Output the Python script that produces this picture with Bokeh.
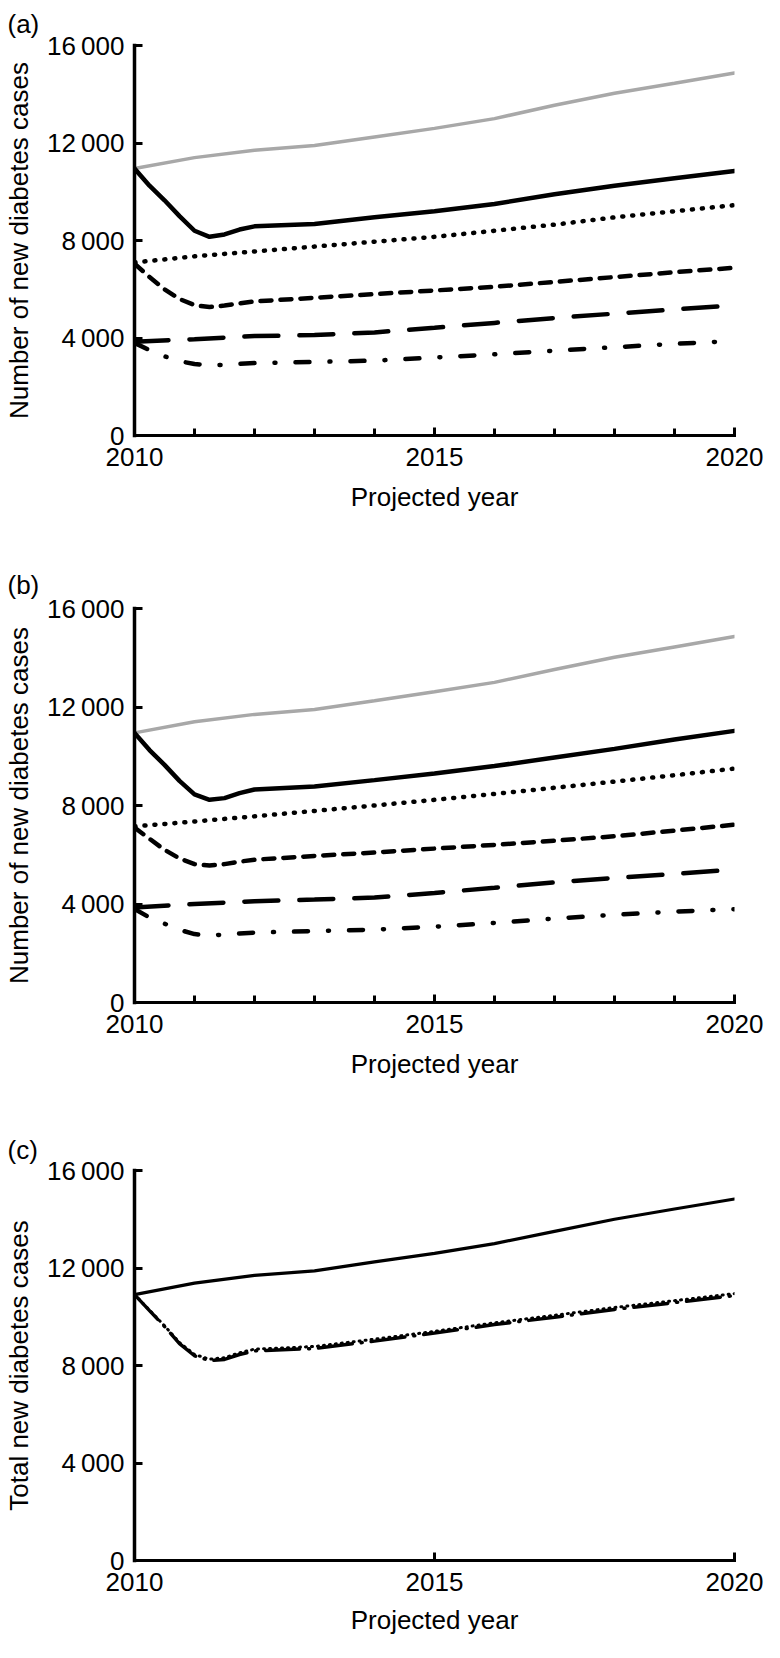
from bokeh.plotting import figure
from bokeh.layouts import column
from bokeh.models import FixedTicker, Range1d
from bokeh.embed import file_html
from bokeh.resources import INLINE

FONT = "Liberation Sans"
FS = "26px"

# ---------------- data ----------------
years = [2010, 2011, 2012, 2013, 2014, 2015, 2016, 2017, 2018, 2019, 2020]
years_fine = [2010, 2010.25, 2010.5, 2010.75, 2011, 2011.25, 2011.5, 2011.75,
              2012, 2013, 2014, 2015, 2016, 2017, 2018, 2019, 2020]

y_ticks = [0, 4000, 8000, 12000, 16000]
y_tick_labels = ["0", "4\u2009000", "8\u2009000", "12\u2009000", "16\u2009000"]
x_ticks = [2010, 2015, 2020]
x_tick_labels = ["2010", "2015", "2020"]
x_minor_ticks = [2011, 2012, 2013, 2014, 2016, 2017, 2018, 2019]

# panel (a)
a_total_no_int = [10950, 11400, 11700, 11900, 12250, 12600, 13000, 13550, 14040, 14450, 14870]
a_total_int = [10950, 10250, 9650, 9000, 8400, 8150, 8250, 8450, 8580, 8680, 8950,
               9200, 9500, 9900, 10250, 10550, 10850]
a_group1_no_int = [7100, 7350, 7550, 7750, 7950, 8150, 8400, 8650, 8950, 9200, 9450]
a_group1_int = [7050, 6500, 6000, 5600, 5350, 5270, 5330, 5420, 5500, 5650, 5800,
                5950, 6100, 6300, 6500, 6700, 6880]
a_group2_no_int = [3850, 3950, 4080, 4120, 4230, 4420, 4620, 4820, 5000, 5170, 5340]
a_group2_int = [3800, 3500, 3250, 3050, 2930, 2890, 2900, 2940, 2970, 3020, 3070,
                3200, 3330, 3480, 3620, 3760, 3880]

# panel (b)
b_total_no_int = [10950, 11400, 11700, 11900, 12250, 12620, 13000, 13520, 14020, 14440, 14860]
b_total_int = [10950, 10250, 9650, 9000, 8450, 8230, 8300, 8500, 8650, 8770, 9030,
               9300, 9600, 9950, 10300, 10680, 11030]
b_group1_no_int = [7150, 7350, 7560, 7780, 8000, 8230, 8470, 8720, 8970, 9230, 9500]
b_group1_int = [7100, 6650, 6200, 5850, 5620, 5560, 5620, 5720, 5800, 5950, 6090,
                6250, 6400, 6570, 6750, 6980, 7220]
b_group2_no_int = [3860, 4000, 4110, 4180, 4260, 4450, 4660, 4880, 5060, 5220, 5400]
b_group2_int = [3800, 3450, 3200, 2950, 2780, 2720, 2760, 2800, 2840, 2900, 2960,
                3080, 3230, 3410, 3560, 3690, 3790]

# panel (c)
c_total_no_int = [10910, 11380, 11700, 11880, 12250, 12600, 13000, 13500, 14000, 14420, 14830]
c_total_int_a = [10910, 10250, 9600, 8900, 8400, 8200, 8250, 8450, 8600, 8700, 9000,
                 9330, 9680, 9980, 10300, 10580, 10870]
c_total_int_b = [10910, 10270, 9630, 8940, 8450, 8260, 8320, 8520, 8670, 8780, 9080,
                 9400, 9750, 10060, 10380, 10660, 10950]

GREY = "#a8a8a8"
BLACK = "#000000"
W = 764


def make_fig(height, top, bottom, right, minor, ylabel, tag, tag_standoff,
             xlab_standoff=13):
    p = figure(width=W, height=height,
               x_range=Range1d(2010, 2020), y_range=Range1d(0, 16000),
               min_border_left=127, min_border_right=right,
               min_border_top=top, min_border_bottom=bottom,
               output_backend="svg", toolbar_location=None,
               background_fill_color="white", border_fill_color="white")
    p.outline_line_color = None
    p.grid.visible = False

    for ax in (p.xaxis[0], p.yaxis[0]):
        ax.axis_line_color = BLACK
        ax.axis_line_cap = "square"
        ax.major_tick_line_width = 3
        ax.major_tick_line_color = BLACK
        ax.minor_tick_line_width = 3
        ax.minor_tick_line_color = BLACK
        ax.major_tick_in = 8
        ax.major_tick_out = 0
        ax.minor_tick_in = 7
        ax.minor_tick_out = 0
        ax.major_label_text_font = FONT
        ax.major_label_text_font_size = FS
        ax.major_label_text_color = BLACK
        ax.axis_label_text_font = FONT
        ax.axis_label_text_font_size = FS
        ax.axis_label_text_font_style = "normal"
        ax.axis_label_text_color = BLACK

    xa = p.xaxis[0]
    xa.axis_line_width = 3
    xa.ticker = FixedTicker(ticks=x_ticks, minor_ticks=x_minor_ticks if minor else [])
    xa.major_label_overrides = dict(zip(x_ticks, x_tick_labels))
    xa.major_label_standoff = 12
    xa.axis_label = "Projected year"
    xa.axis_label_standoff = xlab_standoff

    ya = p.yaxis[0]
    ya.axis_line_width = 3.5
    ya.ticker = FixedTicker(ticks=y_ticks, minor_ticks=[])
    ya.major_label_overrides = dict(zip(y_ticks, y_tick_labels))
    ya.major_label_standoff = 10
    ya.axis_label = ylabel
    ya.axis_label_standoff = 10

    p.title.text = tag
    p.title.align = "left"
    p.title.offset = -127
    p.title.standoff = tag_standoff
    p.title.text_font = FONT
    p.title.text_font_size = FS
    p.title.text_font_style = "normal"
    p.title.text_color = BLACK
    return p


def draw_components(p, tot_no, tot_int, g1_no, g1_int, g2_no, g2_int):
    p.line(years, tot_no, line_color=GREY, line_width=3.5, line_cap="round")
    p.line(years_fine, tot_int, line_color=BLACK, line_width=4.5, line_cap="round")
    p.line(years, g1_no, line_color=BLACK, line_width=4.5, line_dash="1 9", line_cap="round")
    p.line(years_fine, g1_int, line_color=BLACK, line_width=4.5, line_dash="11 9", line_cap="round")
    p.line(years, g2_no, line_color=BLACK, line_width=4.5, line_dash="34 21", line_cap="round")
    p.line(years_fine, g2_int, line_color=BLACK, line_width=4.5, line_dash="14 20 1 20", line_cap="round")


# panel (a)
pa = make_fig(532, 42, 97, 29, True, "Number of new diabetes cases", "(a)", 13)
draw_components(pa, a_total_no_int, a_total_int, a_group1_no_int, a_group1_int,
                a_group2_no_int, a_group2_int)

# panel (b)
pb = make_fig(568, 76, 98, 30, True, "Number of new diabetes cases", "(b)", 17)
draw_components(pb, b_total_no_int, b_total_int, b_group1_no_int, b_group1_int,
                b_group2_no_int, b_group2_int)

# panel (c)
pc = make_fig(542, 70, 82, 29, False, "Total new diabetes cases", "(c)", 12,
              xlab_standoff=11)
pc.line(years, c_total_no_int, line_color=BLACK, line_width=3.2, line_cap="round")
pc.line(years_fine, c_total_int_b, line_color=BLACK, line_width=3, line_dash="1 5", line_cap="round")
pc.line(years_fine, c_total_int_a, line_color=BLACK, line_width=3.5, line_dash="34 9 1 9", line_cap="round")

layout = column(pa, pb, pc, spacing=0)

open("out.html", "w").write(file_html(layout, INLINE))
